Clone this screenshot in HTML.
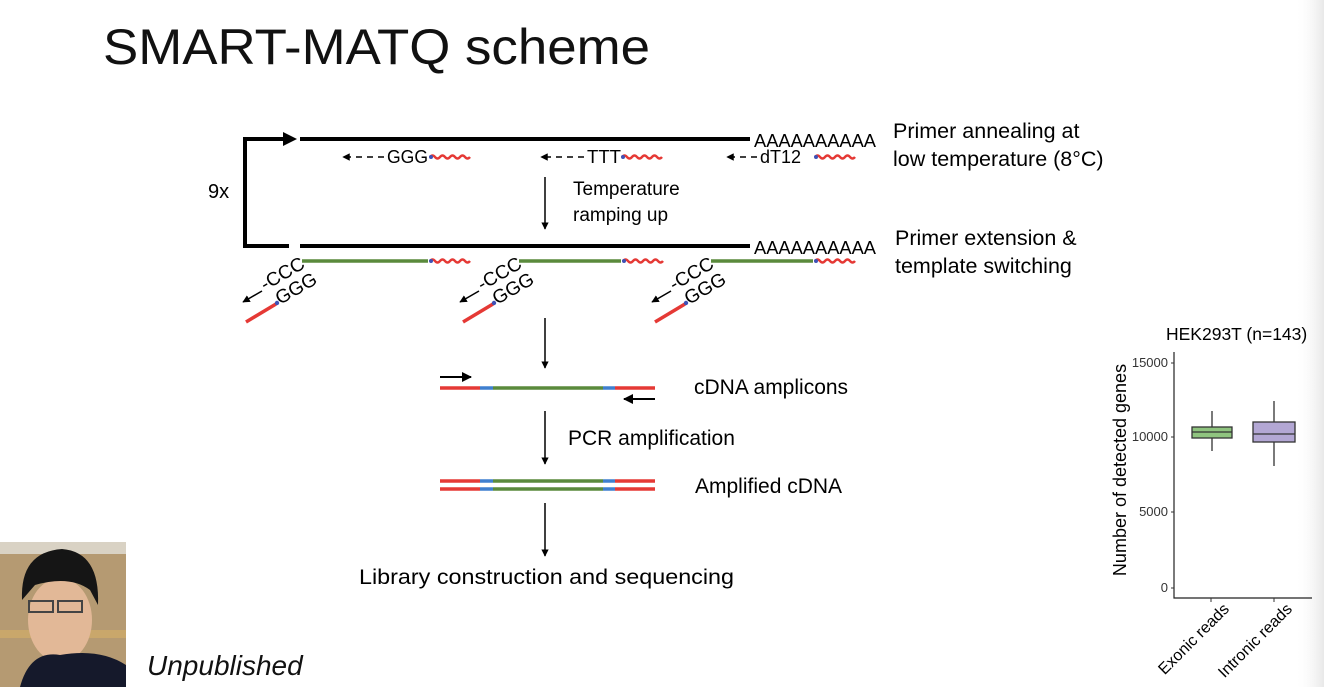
<!DOCTYPE html>
<html><head><meta charset="utf-8"><style>
body{margin:0;background:#fff;}
svg{display:block;font-family:"Liberation Sans",sans-serif;}
</style></head><body>
<svg width="1324" height="687" viewBox="0 0 1324 687" xmlns="http://www.w3.org/2000/svg">
<defs>
<linearGradient id="rg" x1="0" x2="1"><stop offset="0" stop-color="#fff" stop-opacity="0"/><stop offset="1" stop-color="#e8e8e8"/></linearGradient>
<marker id="ah" viewBox="0 0 10 10" refX="9" refY="5" markerWidth="5" markerHeight="5" orient="auto"><path d="M0,0L10,5L0,10z" fill="#000"/></marker>
<path id="wv" d="M0,0 q2.5,-3 5,0 t5,0 t5,0 t5,0 t5,0 t5,0 t5,0 t5,0" fill="none" stroke="#e53935" stroke-width="2.5"/>
</defs>
<rect x="1295" y="0" width="29" height="687" fill="url(#rg)"/>
<text x="103" y="64" font-size="50" fill="#111" textLength="547" lengthAdjust="spacingAndGlyphs">SMART-MATQ scheme</text>

<!-- loop -->
<path d="M289,246 H245 V139 H285" fill="none" stroke="#000" stroke-width="4"/>
<path d="M283,132 L297,139 L283,146z" fill="#000"/>
<line x1="300" y1="139" x2="750" y2="139" stroke="#000" stroke-width="4"/>
<line x1="300" y1="246" x2="750" y2="246" stroke="#000" stroke-width="4"/>
<text x="754" y="147" font-size="18" textLength="122" lengthAdjust="spacingAndGlyphs">AAAAAAAAAA</text>
<text x="754" y="254" font-size="18" textLength="122" lengthAdjust="spacingAndGlyphs">AAAAAAAAAA</text>
<text x="208" y="198" font-size="20">9x</text>

<!-- primers row 1 -->
<g font-size="18">
<line x1="384" y1="157" x2="343" y2="157" stroke="#000" stroke-width="1.5" stroke-dasharray="6,5" marker-end="url(#ah)"/>
<text x="387" y="163" textLength="41" lengthAdjust="spacingAndGlyphs">GGG</text>
<use href="#wv" x="430" y="157"/><circle cx="431" cy="157" r="2" fill="#3f51b5"/>
<line x1="584" y1="157" x2="541" y2="157" stroke="#000" stroke-width="1.5" stroke-dasharray="6,5" marker-end="url(#ah)"/>
<text x="587" y="163" textLength="34" lengthAdjust="spacingAndGlyphs">TTT</text>
<use href="#wv" x="622" y="157"/><circle cx="623" cy="157" r="2" fill="#3f51b5"/>
<line x1="757" y1="157" x2="727" y2="157" stroke="#000" stroke-width="1.5" stroke-dasharray="6,5" marker-end="url(#ah)"/>
<text x="760" y="163">dT12</text>
<use href="#wv" x="815" y="157"/><circle cx="816" cy="157" r="2" fill="#3f51b5"/>
</g>
<line x1="545" y1="177" x2="545" y2="229" stroke="#000" stroke-width="1.5" marker-end="url(#ah)"/>
<text x="573" y="195" font-size="19">Temperature</text>
<text x="573" y="221" font-size="19">ramping up</text>
<text x="893" y="138" font-size="21.5">Primer annealing at</text>
<text x="893" y="166" font-size="21.5">low temperature (8°C)</text>
<text x="895" y="245" font-size="21.5">Primer extension &amp;</text>
<text x="895" y="273" font-size="21.5">template switching</text>

<!-- row 2 groups -->
<g id="g1">
<text x="0" y="0" font-size="19" transform="translate(265,291) rotate(-30)">-CCC</text>
<text x="0" y="0" font-size="19" transform="translate(280,305) rotate(-30)">GGG</text>
<line x1="262" y1="291" x2="243" y2="302" stroke="#000" stroke-width="1.5" marker-end="url(#ah)"/>
<line x1="246" y1="322" x2="276" y2="304" stroke="#e53935" stroke-width="3.5"/>
<circle cx="277" cy="303" r="2.2" fill="#3f51b5"/>
</g>
<use href="#g1" x="217" y="0"/>
<use href="#g1" x="409" y="0"/>
<line x1="302" y1="261" x2="428" y2="261" stroke="#5a8a3c" stroke-width="3.5"/>
<use href="#wv" x="430" y="261"/><circle cx="431" cy="261" r="2" fill="#3f51b5"/>
<line x1="519" y1="261" x2="621" y2="261" stroke="#5a8a3c" stroke-width="3.5"/>
<use href="#wv" x="623" y="261"/><circle cx="624" cy="261" r="2" fill="#3f51b5"/>
<line x1="711" y1="261" x2="813" y2="261" stroke="#5a8a3c" stroke-width="3.5"/>
<use href="#wv" x="815" y="261"/><circle cx="816" cy="261" r="2" fill="#3f51b5"/>

<line x1="545" y1="318" x2="545" y2="368" stroke="#000" stroke-width="1.5" marker-end="url(#ah)"/>
<!-- cDNA amplicons -->
<g stroke-width="3.5">
<line x1="440" y1="388" x2="480" y2="388" stroke="#e53935"/><line x1="480" y1="388" x2="493" y2="388" stroke="#3f7fcf"/>
<line x1="493" y1="388" x2="603" y2="388" stroke="#5a8a3c"/><line x1="603" y1="388" x2="615" y2="388" stroke="#3f7fcf"/>
<line x1="615" y1="388" x2="655" y2="388" stroke="#e53935"/>
</g>
<line x1="440" y1="377" x2="471" y2="377" stroke="#000" stroke-width="2" marker-end="url(#ah)"/>
<line x1="655" y1="399" x2="624" y2="399" stroke="#000" stroke-width="2" marker-end="url(#ah)"/>
<text x="694" y="394" font-size="21">cDNA amplicons</text>
<line x1="545" y1="411" x2="545" y2="464" stroke="#000" stroke-width="1.5" marker-end="url(#ah)"/>
<text x="568" y="445" font-size="21">PCR amplification</text>
<g stroke-width="3.5" id="dl">
<line x1="440" y1="481" x2="480" y2="481" stroke="#e53935"/><line x1="480" y1="481" x2="493" y2="481" stroke="#3f7fcf"/>
<line x1="493" y1="481" x2="603" y2="481" stroke="#5a8a3c"/><line x1="603" y1="481" x2="615" y2="481" stroke="#3f7fcf"/>
<line x1="615" y1="481" x2="655" y2="481" stroke="#e53935"/>
</g>
<use href="#dl" x="0" y="8"/>
<text x="695" y="493" font-size="21">Amplified cDNA</text>
<line x1="545" y1="503" x2="545" y2="556" stroke="#000" stroke-width="1.5" marker-end="url(#ah)"/>
<text x="359" y="584" font-size="21" textLength="375" lengthAdjust="spacingAndGlyphs">Library construction and sequencing</text>

<!-- photo -->
<rect x="0" y="542" width="126" height="145" fill="#b59a72"/>
<rect x="0" y="542" width="126" height="12" fill="#d9d2c4"/>
<rect x="0" y="630" width="126" height="8" fill="#c9a76b"/>
<ellipse cx="60" cy="620" rx="32" ry="42" fill="#e2b897"/>
<path d="M22,600 Q20,552 62,549 Q100,552 98,605 L90,590 Q70,575 35,585z" fill="#151515"/>
<rect x="29" y="601" width="24" height="11" fill="none" stroke="#444" stroke-width="2"/>
<rect x="58" y="601" width="24" height="11" fill="none" stroke="#444" stroke-width="2"/>
<path d="M20,687 Q30,650 60,655 Q100,648 126,665 L126,687z" fill="#15192b"/>
<text x="147" y="675" font-size="28" font-style="italic" fill="#111">Unpublished</text>

<!-- chart -->
<text x="1166" y="340" font-size="17.5">HEK293T (n=143)</text>
<path d="M1174,352 V598 H1312" fill="none" stroke="#222" stroke-width="1.2"/>
<g font-size="13" text-anchor="end" fill="#333">
<text x="1168" y="367">15000</text><text x="1168" y="441">10000</text>
<text x="1168" y="516">5000</text><text x="1168" y="592">0</text>
</g>
<g stroke="#333" stroke-width="1">
<line x1="1171" y1="363" x2="1174" y2="363"/><line x1="1171" y1="437" x2="1174" y2="437"/>
<line x1="1171" y1="512" x2="1174" y2="512"/><line x1="1171" y1="588" x2="1174" y2="588"/>
<line x1="1211" y1="598" x2="1211" y2="602"/><line x1="1274" y1="598" x2="1274" y2="602"/>
</g>
<g stroke="#333" stroke-width="1.3">
<line x1="1212" y1="411" x2="1212" y2="451"/>
<rect x="1192" y="427" width="40" height="11" fill="#8fc47f"/>
<line x1="1192" y1="432" x2="1232" y2="432"/>
<line x1="1274" y1="401" x2="1274" y2="466"/>
<rect x="1253" y="422" width="42" height="20" fill="#b3a7d4"/>
<line x1="1253" y1="434" x2="1295" y2="434"/>
</g>
<text x="0" y="0" font-size="18" text-anchor="middle" transform="translate(1126,470) rotate(-90)">Number of detected genes</text>
<text x="0" y="0" font-size="16" text-anchor="end" transform="translate(1230,610) rotate(-45)">Exonic reads</text>
<text x="0" y="0" font-size="16" text-anchor="end" transform="translate(1293,610) rotate(-45)">Intronic reads</text>
</svg>
</body></html>
